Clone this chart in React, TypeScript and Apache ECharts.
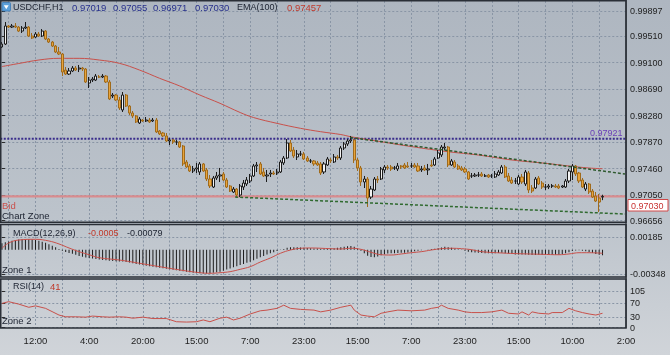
import React, { useEffect, useRef } from "react";
import * as echarts from "echarts";

// ---------- data ----------
const TICK_LABELS = ["12:00", "4:00", "20:00", "15:00", "7:00", "23:00", "15:00", "7:00", "23:00", "15:00", "10:00", "2:00"];
const TICK_INDEX = [10, 26, 42, 58, 74, 90, 106, 122, 138, 154, 170, 186];
const VGRID_INDEX = [2, 10, 18, 26, 34, 42, 50, 58, 66, 74, 82, 90, 98, 106, 114, 122, 130, 138, 146, 154, 162, 170, 178];
const PRICE_TICKS = [0.99897, 0.9951, 0.991, 0.9869, 0.9828, 0.9787, 0.9746, 0.9705, 0.96656];
const MACD_TICKS = [0.00185, -0.00348];
const RSI_TICKS = [105, 70, 30, 0];

const HEADER_OHLC = ["0.97019", "0.97055", "0.96971", "0.97030"];
const EMA_LAST = "0.97457";
const MACD_LAST = ["-0.0005", "-0.00079"];
const RSI_LAST = "41";
const RESIST_LEVEL = 0.97921;
const BID = 0.9703;

// [open, close, low, high] in 1e-5
const CANDLES: number[][] = [
  [99340, 99386, 99324, 99417], [99386, 99665, 99371, 99727], [99665, 99649, 99634, 99680], [99649, 99665, 99634, 99696], [99665, 99649, 99634, 99711],
  [99649, 99587, 99572, 99665], [99587, 99634, 99557, 99665], [99634, 99649, 99618, 99727], [99649, 99510, 99495, 99665], [99510, 99479, 99464, 99557],
  [99495, 99541, 99479, 99572], [99541, 99510, 99495, 99572], [99510, 99587, 99495, 99618], [99587, 99464, 99448, 99603], [99464, 99417, 99402, 99479],
  [99417, 99355, 99340, 99433], [99355, 99263, 99247, 99371], [99263, 99232, 99216, 99340], [99232, 98953, 98891, 99247], [98984, 98922, 98907, 99031],
  [98922, 98969, 98907, 99015], [98969, 99015, 98953, 99046], [99015, 98984, 98969, 99046], [99000, 99015, 98953, 99062], [99015, 99000, 98969, 99031],
  [99000, 98799, 98783, 99015], [98783, 98829, 98706, 98876], [98829, 98845, 98799, 98876], [98829, 98891, 98814, 98922], [98876, 98876, 98860, 98907],
  [98876, 98891, 98860, 98922], [98891, 98799, 98783, 98907], [98799, 98536, 98520, 98829], [98582, 98597, 98551, 98628], [98597, 98520, 98505, 98613],
  [98520, 98396, 98366, 98567], [98366, 98597, 98335, 98644], [98597, 98427, 98412, 98613], [98427, 98319, 98288, 98443], [98319, 98273, 98242, 98350],
  [98273, 98180, 98165, 98288], [98165, 98226, 98149, 98257], [98211, 98196, 98180, 98226], [98196, 98211, 98180, 98257], [98211, 98180, 98165, 98242],
  [98196, 98211, 98180, 98242], [98211, 98026, 98010, 98242], [98041, 97995, 97979, 98056], [98010, 97964, 97948, 98026], [97964, 97886, 97871, 98010],
  [97886, 97902, 97824, 97933], [97902, 97871, 97840, 97917], [97871, 97871, 97824, 97902], [97871, 97793, 97778, 97886], [97809, 97531, 97500, 97824],
  [97561, 97484, 97469, 97592], [97500, 97422, 97407, 97531], [97422, 97453, 97391, 97500], [97453, 97469, 97391, 97546], [97407, 97531, 97360, 97561],
  [97531, 97422, 97407, 97546], [97438, 97298, 97267, 97469], [97298, 97190, 97159, 97360], [97174, 97314, 97159, 97345], [97314, 97345, 97283, 97407],
  [97345, 97360, 97252, 97469], [97376, 97283, 97267, 97407], [97283, 97174, 97159, 97314], [97190, 97112, 97097, 97205], [97097, 97143, 97081, 97174],
  [97143, 97050, 97004, 97159], [97050, 97190, 97019, 97221], [97174, 97236, 97128, 97283], [97221, 97283, 97190, 97329], [97267, 97345, 97236, 97376],
  [97345, 97500, 97329, 97531], [97500, 97515, 97407, 97561], [97531, 97376, 97360, 97561], [97407, 97345, 97329, 97469], [97345, 97360, 97252, 97438],
  [97376, 97391, 97329, 97438], [97391, 97376, 97360, 97422], [97391, 97407, 97360, 97453], [97407, 97561, 97391, 97592], [97546, 97623, 97515, 97654],
  [97623, 97855, 97608, 97917], [97855, 97732, 97716, 97902], [97747, 97654, 97623, 97793], [97639, 97685, 97592, 97747], [97685, 97685, 97654, 97732],
  [97685, 97608, 97592, 97716], [97623, 97577, 97561, 97654], [97577, 97577, 97546, 97608], [97577, 97531, 97500, 97592], [97546, 97515, 97500, 97577],
  [97531, 97391, 97360, 97561], [97407, 97531, 97376, 97561], [97515, 97608, 97500, 97639], [97592, 97577, 97546, 97623], [97561, 97639, 97546, 97685],
  [97639, 97623, 97592, 97670], [97623, 97778, 97592, 97809], [97778, 97840, 97747, 97871], [97840, 97886, 97809, 97917], [97886, 97902, 97855, 97964],
  [97902, 97592, 97546, 97917], [97592, 97469, 97422, 97623], [97469, 97252, 97190, 97500], [97252, 97298, 97159, 97345], [97298, 97004, 96865, 97329],
  [97019, 97143, 96988, 97190], [97128, 97298, 97112, 97329], [97298, 97283, 97236, 97345], [97298, 97453, 97283, 97484], [97438, 97484, 97391, 97515],
  [97484, 97469, 97438, 97515], [97484, 97453, 97422, 97515], [97469, 97469, 97438, 97500], [97453, 97500, 97422, 97546], [97500, 97484, 97453, 97515],
  [97515, 97469, 97453, 97546], [97500, 97484, 97469, 97561], [97500, 97500, 97469, 97546], [97515, 97484, 97469, 97546], [97500, 97422, 97407, 97546],
  [97438, 97453, 97407, 97500], [97469, 97438, 97422, 97515], [97438, 97453, 97360, 97531], [97515, 97500, 97484, 97592], [97515, 97608, 97500, 97639],
  [97623, 97701, 97608, 97747], [97670, 97793, 97639, 97824], [97778, 97793, 97747, 97855], [97793, 97515, 97484, 97809], [97515, 97577, 97500, 97608],
  [97561, 97484, 97469, 97592], [97500, 97453, 97438, 97531], [97469, 97438, 97422, 97500], [97453, 97407, 97391, 97484], [97407, 97298, 97283, 97422],
  [97345, 97345, 97314, 97391], [97345, 97360, 97329, 97391], [97360, 97360, 97329, 97407], [97376, 97345, 97329, 97407], [97345, 97345, 97329, 97376],
  [97360, 97329, 97314, 97376], [97345, 97345, 97314, 97376], [97329, 97376, 97314, 97422], [97360, 97407, 97345, 97438], [97391, 97484, 97376, 97515],
  [97484, 97329, 97314, 97515], [97345, 97267, 97252, 97391], [97283, 97236, 97221, 97329], [97267, 97267, 97221, 97314], [97221, 97329, 97205, 97360],
  [97329, 97252, 97221, 97376], [97221, 97407, 97190, 97438], [97391, 97128, 97081, 97422], [97159, 97112, 97081, 97205], [97159, 97298, 97143, 97329],
  [97314, 97221, 97205, 97345], [97236, 97174, 97143, 97267], [97174, 97174, 97128, 97221], [97174, 97190, 97143, 97221], [97190, 97190, 97159, 97221],
  [97190, 97174, 97159, 97221], [97190, 97159, 97143, 97221], [97174, 97190, 97159, 97205], [97174, 97267, 97159, 97298], [97267, 97422, 97236, 97453],
  [97407, 97500, 97283, 97531], [97500, 97376, 97345, 97515], [97391, 97267, 97236, 97407], [97283, 97174, 97159, 97314], [97143, 97221, 97112, 97252],
  [97221, 97097, 97066, 97236], [97112, 97019, 97004, 97143], [97035, 96957, 96942, 97097], [97004, 96942, 96787, 97066], [97019, 97030, 96971, 97055],
];

// EMA(100) read at sample bars: [bar, value 1e-5]
const EMA100: number[][] = [
  [0, 99038], [5, 99085], [11, 99139], [17, 99165], [23, 99165], [29, 99139], [35, 99088], [41, 98984], [47, 98856], [53, 98737],
  [59, 98597], [65, 98469], [71, 98327], [75, 98249], [82, 98159], [89, 98082], [95, 98030], [101, 97986], [104, 97952], [113, 97875],
  [122, 97800], [133, 97720], [142, 97669], [152, 97592], [162, 97541], [169, 97499], [175, 97468], [179, 97457],
];

const TREND_UPPER: number[][] = [[103.8, 97940], [185.7, 97376]];
const TREND_LOWER: number[][] = [[69.5, 97019], [185.7, 96756]];

// MACD main (histogram) per bar, 1e-5
const MACD_MAIN: number[] = [
  94, 108, 120, 131, 140, 147, 151, 153, 152, 148,
  140, 130, 117, 100, 80, 58, 36, 12, -15, -33,
  -45, -58, -72, -88, -100, -110, -118, -126, -134, -140,
  -146, -150, -156, -160, -164, -168, -170, -175, -182, -192,
  -203, -212, -220, -228, -236, -244, -252, -260, -267, -274,
  -280, -288, -295, -300, -308, -316, -323, -330, -335, -338,
  -340, -340, -338, -332, -325, -315, -300, -284, -268, -252,
  -236, -220, -204, -188, -172, -152, -130, -108, -88, -68,
  -50, -34, -18, -3, 12, 28, 36, 38, 36, 32,
  28, 25, 22, 20, 18, 16, 15, 16, 18, 22,
  28, 36, 44, 52, 55, 45, 20, -15, -50, -85,
  -105, -108, -95, -80, -65, -55, -50, -48, -46, -44,
  -42, -38, -30, -22, -15, -8, 0, 5, 10, 15,
  22, 32, 45, 38, 30, 18, 8, -2, -14, -27,
  -34, -40, -42, -45, -48, -50, -50, -48, -46, -44,
  -48, -55, -62, -66, -66, -68, -66, -72, -76, -74,
  -72, -74, -75, -74, -73, -72, -70, -62, -50, -35,
  -18, -10, -6, -12, -20, -30, -45, -60, -72, -79,
];

// MACD signal read at sample bars: [bar, value 1e-5]
const MACD_SIGNAL: number[][] = [
  [0, 22], [2, 98], [5, 141], [10, 151], [14, 127], [17, 84], [20, 26], [23, -27], [26, -71], [29, -114],
  [35, -147], [41, -194], [47, -243], [53, -290], [59, -330], [62, -338], [65, -330], [68, -315], [71, -281], [74, -243],
  [77, -176], [80, -118], [83, -50], [86, -3], [89, 22], [92, 26], [98, 16], [101, 12], [104, 22], [107, 7],
  [110, -36], [113, -71], [116, -75], [119, -60], [122, -42], [125, -27], [128, -3], [131, 16], [134, 22], [137, 16],
  [140, 1], [143, -27], [149, -46], [154, -56], [161, -65], [166, -71], [169, -60], [172, -42], [175, -42], [179, -50],
];

// RSI(14) read at sample bars
const RSI14: number[][] = [
  [0, 69], [2, 74], [5, 67], [8, 58], [10, 62], [13, 55], [17, 36], [19, 31], [22, 31], [25, 30],
  [27, 33], [30, 31], [32, 30], [35, 31], [37, 30], [39, 27], [42, 30], [45, 26], [49, 26], [52, 17],
  [55, 16], [58, 17], [60, 22], [62, 17], [65, 27], [67, 30], [69, 22], [71, 27], [74, 39], [77, 48],
  [79, 50], [82, 55], [84, 64], [86, 55], [89, 52], [93, 50], [95, 45], [98, 50], [101, 58], [103, 62],
  [104, 64], [105, 50], [107, 36], [109, 33], [111, 31], [113, 41], [115, 45], [118, 50], [122, 48], [126, 50],
  [128, 55], [130, 58], [131, 64], [133, 55], [136, 50], [138, 45], [140, 43], [143, 43], [146, 45], [149, 50],
  [151, 41], [154, 39], [155, 45], [157, 36], [158, 45], [160, 41], [163, 39], [164, 43], [167, 43], [169, 55],
  [171, 48], [173, 43], [175, 39], [177, 36], [179, 41],
];

// ---------- styling ----------
const FONT = '"Liberation Sans", Arial, sans-serif';
const RED = "#c8504a";
const GRIDC = "#8995a5";
const FRAME = "#2a2f37";

function txt(text: string, x: number, y: number, fill: string, size = 9) {
  return {
    type: "text",
    x,
    y,
    z: 60,
    silent: true,
    style: { text, fill, font: `${size}px ${FONT}`, verticalAlign: "middle", align: "left" },
  };
}

function frame(y: number, h: number) {
  return {
    type: "rect",
    z: 55,
    silent: true,
    shape: { x: 0.75, y, width: 625.3, height: h },
    style: { fill: "none", stroke: FRAME, lineWidth: 1.5 },
  };
}

function xAxisFor(gridIndex: number, showLabels: boolean) {
  return {
    type: "value",
    gridIndex,
    min: -0.5,
    max: 186,
    axisLine: { show: false },
    axisTick: { show: false, customValues: VGRID_INDEX },
    splitLine: { show: true, lineStyle: { color: GRIDC, type: [2, 2], width: 1 } },
    axisLabel: showLabels
      ? {
          show: true,
          customValues: TICK_INDEX,
          margin: 7,
          color: "#1e1e1e",
          fontSize: 9.5,
          fontFamily: FONT,
          formatter: (v: number) => {
            const k = TICK_INDEX.indexOf(Math.round(v));
            return k >= 0 ? TICK_LABELS[k] : "";
          },
        }
      : { show: false },
  };
}

function yAxisFor(gridIndex: number, min: number, max: number, ticks: number[], fmt: (v: number) => string) {
  return {
    type: "value",
    gridIndex,
    position: "right",
    min,
    max,
    axisLine: { show: false },
    axisTick: { show: true, customValues: ticks, length: 3, inside: false, lineStyle: { color: "#2a2a2a" } },
    splitLine: { show: true, lineStyle: { color: GRIDC, type: [2, 2], width: 1 } },
    axisLabel: {
      show: true,
      customValues: ticks,
      margin: 4,
      color: "#1e1e1e",
      fontSize: 9,
      fontFamily: FONT,
      formatter: fmt,
    },
  };
}

function buildOption() {
  const candleData = CANDLES.map((r, i) => [i, r[0] / 1e5, r[1] / 1e5, r[2] / 1e5, r[3] / 1e5]);
  const scale = (pts: number[][], k: number) => pts.map(([i, v]) => [i, v / k]);

  const graphic: any[] = [
    {
      type: "rect",
      z: -10,
      silent: true,
      shape: { x: 0, y: 0, width: 670, height: 355 },
      style: {
        fill: new echarts.graphic.LinearGradient(0, 0, 0, 1, [
          { offset: 0, color: "#aeb6c0" },
          { offset: 0.6, color: "#bcc3cb" },
          { offset: 1, color: "#d0d4d9" },
        ]),
      },
    },
    frame(0.75, 221.5),
    frame(224.5, 52.5),
    frame(279, 49),
    {
      type: "line",
      z: 55,
      silent: true,
      shape: { x1: 626, y1: 0, x2: 626, y2: 328 },
      style: { stroke: FRAME, lineWidth: 1.2 },
    },
    // icon
    {
      type: "rect",
      z: 60,
      silent: true,
      shape: { x: 2, y: 2.5, width: 8.5, height: 8.5, r: 1 },
      style: { fill: "#5c9fd8", stroke: "#3b78b5", lineWidth: 0.8 },
    },
    {
      type: "polygon",
      z: 61,
      silent: true,
      shape: { points: [[3.8, 5.2], [8.7, 5.2], [6.25, 9.3]] },
      style: { fill: "#ffffff" },
    },
    txt("USDCHF,H1", 13, 7, "#1c2230", 9),
    txt(HEADER_OHLC[0], 72, 7, "#27308c", 9.5),
    txt(HEADER_OHLC[1], 113, 7, "#27308c", 9.5),
    txt(HEADER_OHLC[2], 153, 7, "#27308c", 9.5),
    txt(HEADER_OHLC[3], 195, 7, "#27308c", 9.5),
    txt("EMA(100)", 237, 7, "#1c2230", 9),
    txt(EMA_LAST, 287, 7, "#c0392b", 9.5),
    txt("Bid", 2, 205, "#c9504c", 9.5),
    txt("Chart Zone", 2, 215.5, "#1c2230", 9.5),
    txt("MACD(12,26,9)", 13, 232.5, "#1c2230", 9),
    txt(MACD_LAST[0], 88, 232.5, "#c0392b", 9),
    txt(MACD_LAST[1], 127, 232.5, "#1c2230", 9),
    txt("Zone 1", 2, 269, "#1c2230", 9.5),
    txt("RSI(14)", 13, 286, "#1c2230", 9),
    txt(RSI_LAST, 50, 286, "#c0392b", 9.5),
    txt("Zone 2", 2, 320.5, "#1c2230", 9.5),
    txt(RESIST_LEVEL.toFixed(5), 590, 133, "#6b3fb8", 9),
    {
      type: "rect",
      z: 62,
      silent: true,
      shape: { x: 628, y: 199.5, width: 40, height: 11.5 },
      style: { fill: "#ffffff", stroke: "#d04848", lineWidth: 1 },
    },
    { ...txt(BID.toFixed(5), 631, 205.5, "#c83232", 9), z: 63 },
  ];

  return {
    animation: false,
    graphic,
    grid: [
      { left: 0.27, right: 44, top: 1, height: 221 },
      { left: 0.27, right: 44, top: 224.5, height: 52.5 },
      { left: 0.27, right: 44, top: 279, height: 49 },
    ],
    xAxis: [xAxisFor(0, false), xAxisFor(1, false), xAxisFor(2, true)],
    yAxis: [
      yAxisFor(0, 0.96633, 1.00052, PRICE_TICKS, (v) => v.toFixed(5)),
      yAxisFor(1, -0.003917, 0.003643, MACD_TICKS, (v) => v.toFixed(5)),
      yAxisFor(2, -0.85, 138.4, RSI_TICKS, (v) => String(Math.round(v))),
    ],
    series: [
      {
        type: "line",
        xAxisIndex: 0,
        yAxisIndex: 0,
        data: [[-0.5, BID], [186, BID]],
        symbol: "none",
        silent: true,
        z: 1,
        lineStyle: { color: "#d98b8e", width: 2.2 },
      },
      {
        type: "line",
        xAxisIndex: 0,
        yAxisIndex: 0,
        data: [[-0.5, RESIST_LEVEL], [186, RESIST_LEVEL]],
        symbol: "none",
        silent: true,
        z: 1,
        lineStyle: { color: "#3a2d8c", width: 2, type: [2, 1.5] },
      },
      {
        type: "line",
        xAxisIndex: 0,
        yAxisIndex: 0,
        data: scale(EMA100, 1e5),
        symbol: "none",
        smooth: 0.4,
        silent: true,
        z: 2,
        lineStyle: { color: RED, width: 1 },
      },
      {
        type: "candlestick",
        xAxisIndex: 0,
        yAxisIndex: 0,
        data: candleData,
        encode: { x: 0, y: [1, 2, 3, 4] },
        barWidth: 2.6,
        z: 3,
        itemStyle: {
          color: "#f3f3f3",
          color0: "#e8a43c",
          borderColor: "#1b1b1b",
          borderColor0: "#a06a1a",
          borderWidth: 1,
        },
      },
      {
        type: "line",
        xAxisIndex: 0,
        yAxisIndex: 0,
        data: scale(TREND_UPPER, 1e5),
        symbol: "none",
        silent: true,
        z: 4,
        lineStyle: { color: "#2f5a2f", width: 1.5, type: [3, 2] },
      },
      {
        type: "line",
        xAxisIndex: 0,
        yAxisIndex: 0,
        data: scale(TREND_LOWER, 1e5),
        symbol: "none",
        silent: true,
        z: 4,
        lineStyle: { color: "#2f6a2f", width: 1.5, type: [3, 2] },
      },
      {
        type: "bar",
        xAxisIndex: 1,
        yAxisIndex: 1,
        data: MACD_MAIN.map((v, i) => [i, v / 1e5]),
        barWidth: 1,
        silent: true,
        itemStyle: { color: "#1c1c1c" },
      },
      {
        type: "line",
        xAxisIndex: 1,
        yAxisIndex: 1,
        data: scale(MACD_SIGNAL, 1e5),
        symbol: "none",
        smooth: 0.4,
        silent: true,
        z: 3,
        lineStyle: { color: RED, width: 1 },
      },
      {
        type: "line",
        xAxisIndex: 2,
        yAxisIndex: 2,
        data: RSI14,
        symbol: "none",
        silent: true,
        lineStyle: { color: RED, width: 1 },
      },
    ],
  };
}

export default function App() {
  const ref = useRef<HTMLDivElement>(null);
  useEffect(() => {
    if (!ref.current) return;
    const chart = echarts.init(ref.current, null, { renderer: "svg" });
    chart.setOption(buildOption() as any);
    return () => chart.dispose();
  }, []);
  return <div ref={ref} style={{ position: "fixed", left: 0, top: 0, width: 670, height: 355 }} />;
}
